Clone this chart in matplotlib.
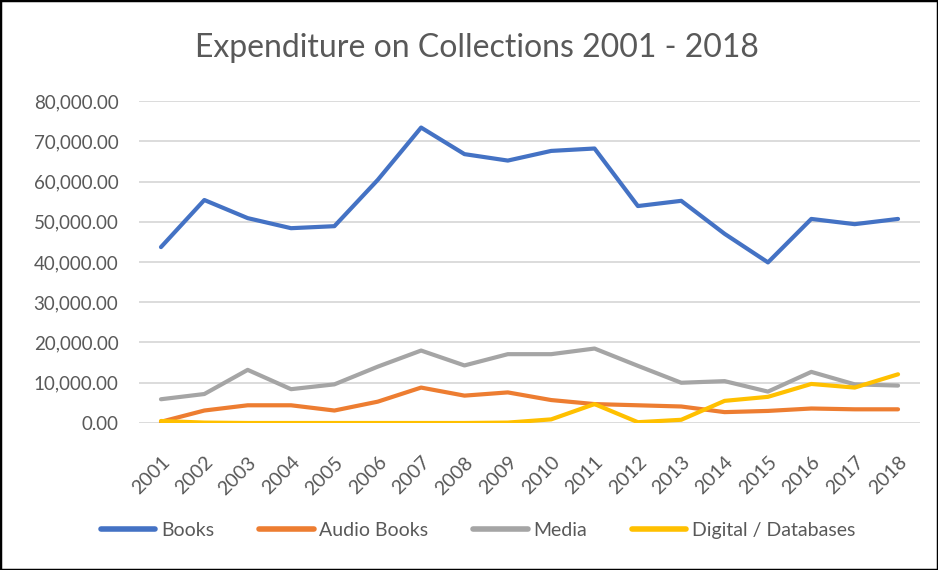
import matplotlib.pyplot as plt
from matplotlib.patches import Rectangle
from matplotlib.ticker import FuncFormatter

years = [str(y) for y in range(2001, 2019)]
books = [43700, 55400, 50900, 48400, 48900, 60400, 73400, 66800, 65200,
         67600, 68200, 53900, 55200, 47000, 39900, 50700, 49400, 50700]
audio_books = [300, 3100, 4400, 4400, 3100, 5300, 8800, 6800, 7600,
               5700, 4700, 4400, 4100, 2700, 3000, 3600, 3400, 3400]
media = [5900, 7200, 13200, 8400, 9600, 14000, 18000, 14300, 17100,
         17100, 18500, 14200, 10000, 10400, 7800, 12700, 9600, 9300]
digital = [500, 100, 0, 0, 0, 0, 0, 0, 100,
           900, 4700, 200, 800, 5500, 6500, 9700, 8800, 12100]

series = [("Books", books, "#4472c4"),
          ("Audio Books", audio_books, "#ed7d31"),
          ("Media", media, "#a5a5a5"),
          ("Digital / Databases", digital, "#ffc000")]

plt.rcParams['font.family'] = ['Lato', 'DejaVu Sans']
text_color = "#595959"

fig = plt.figure(figsize=(9.38, 5.70), dpi=100)
ax = fig.add_axes([0.1485, 0.2579, 0.832, 0.5649])

x = list(range(len(years)))
for label, vals, color in series:
    ax.plot(x, vals, color=color, lw=3, label=label,
            solid_capstyle='round', solid_joinstyle='round')

ax.set_xlim(-0.5, len(years) - 0.5)
ax.set_ylim(0, 80000)
ax.set_yticks(range(0, 80001, 10000))
ax.yaxis.set_major_formatter(FuncFormatter(lambda v, p: f"{v:,.2f}"))
ax.set_xticks(x)
ax.set_xticklabels(years, rotation=45, ha='right', rotation_mode='anchor')
ax.tick_params(axis='both', length=0, colors=text_color)
ax.tick_params(axis='x', pad=22, labelsize=14)
ax.tick_params(axis='y', pad=15, labelsize=13.5)
ax.grid(axis='y', color='#d9d9d9', lw=1.3)
ax.set_axisbelow(True)
for s in ax.spines.values():
    s.set_visible(False)

fig.text(0.508, 0.915, "Expenditure on Collections 2001 - 2018",
         ha='center', va='center', fontsize=23, color=text_color)

leg = fig.legend(loc='center', bbox_to_anchor=(0.51, 0.07), ncol=4,
                 frameon=False, fontsize=14, labelcolor=text_color,
                 handlelength=2.8, columnspacing=2.3, handletextpad=0.3)
for h in leg.get_lines():
    h.set_linewidth(4)

fig.patches.append(Rectangle((0, 0), 1, 1, transform=fig.transFigure,
                             fill=False, edgecolor='black', lw=2.5))

fig.savefig("out.png", dpi=100)
